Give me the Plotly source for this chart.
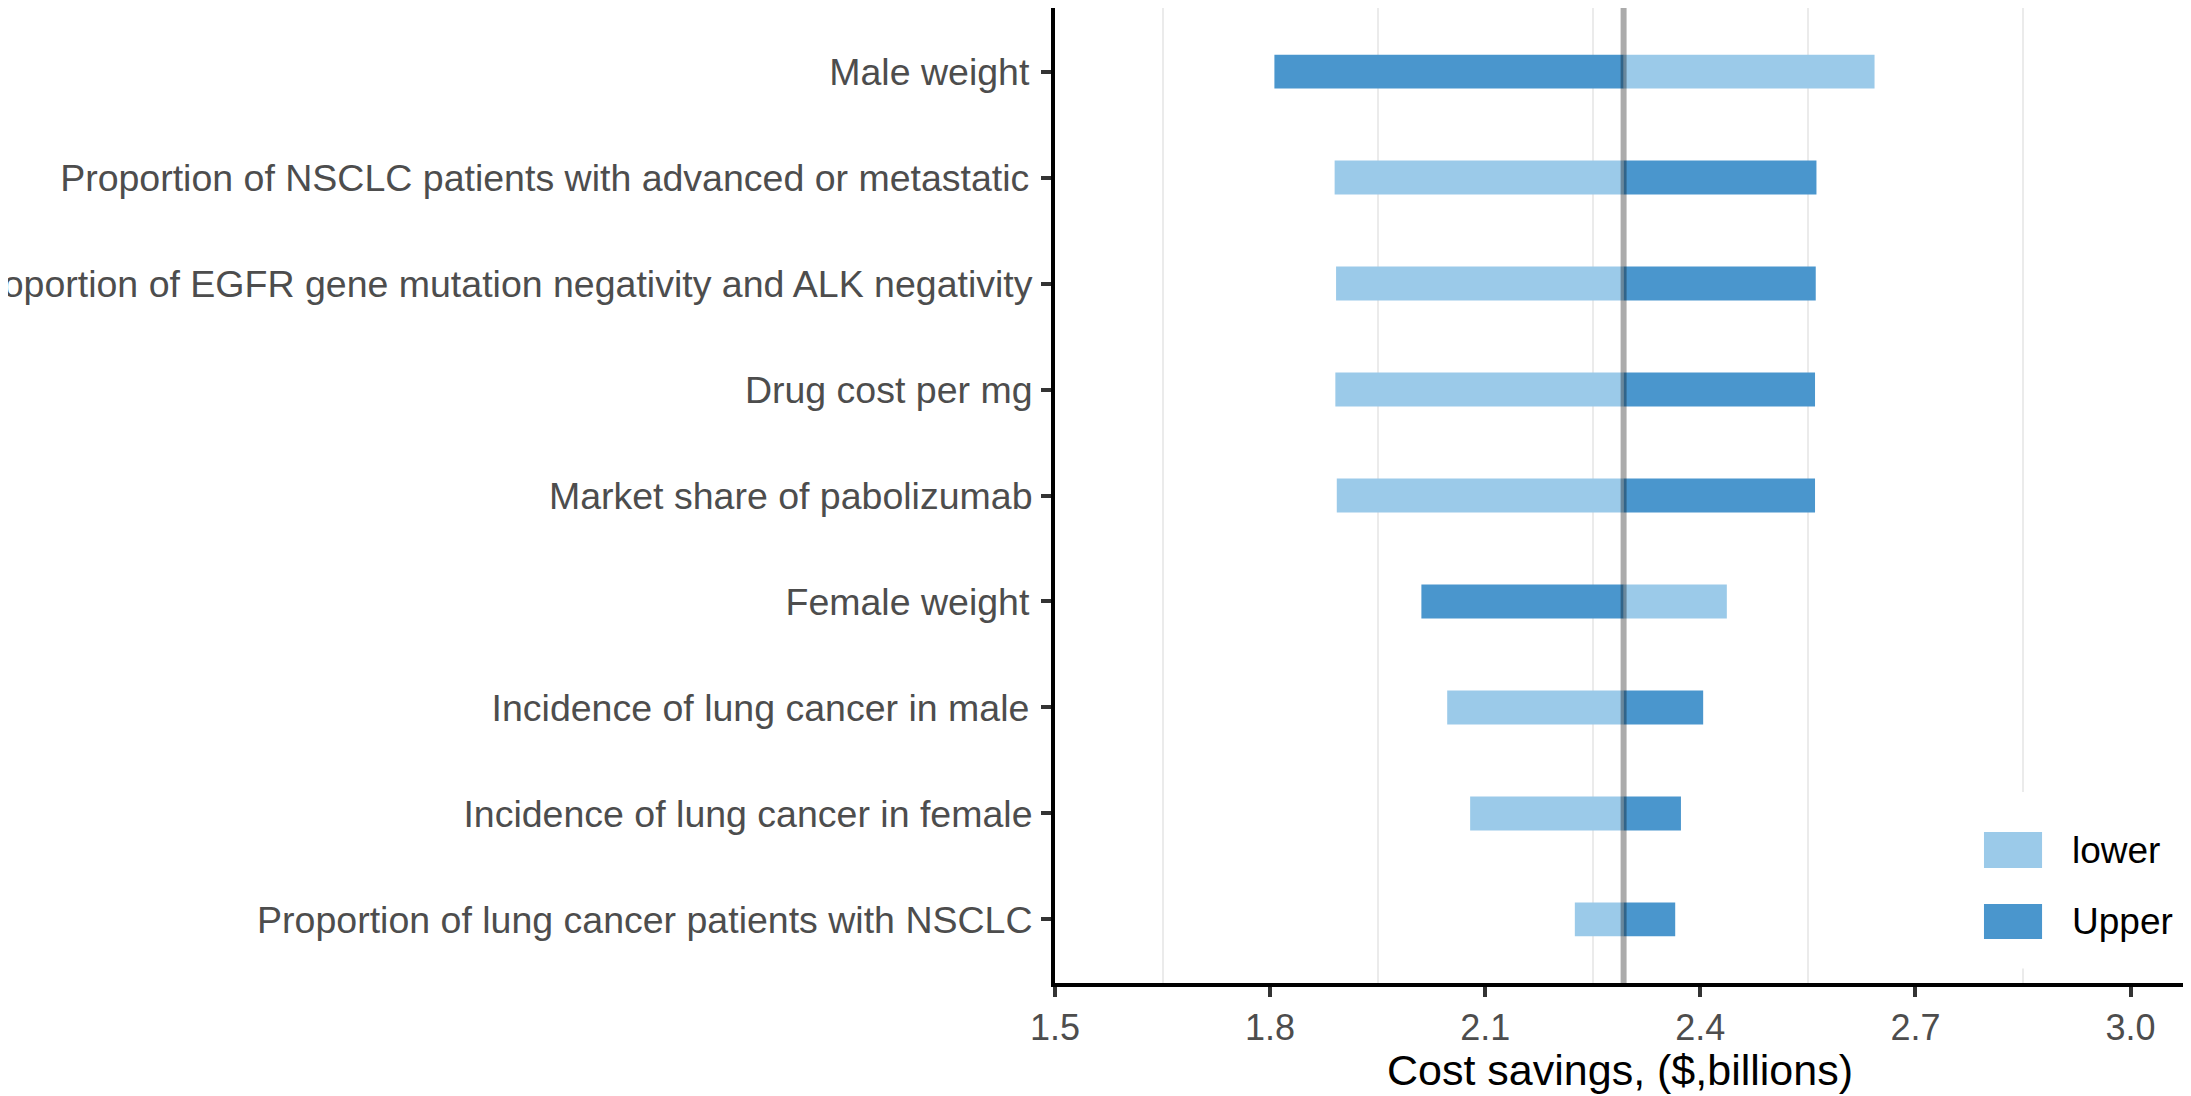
import plotly.graph_objects as go

# tornado chart: one-way sensitivity of cost savings
params = [
    "Male weight\u200a",
    "Proportion of NSCLC patients with advanced or metastatic\u200a",
    "Proportion of EGFR gene mutation negativity and ALK negativity",
    "Drug cost per mg",
    "Market share of pabolizumab",
    "Female weight\u200a",
    "Incidence of lung cancer in male\u200a",
    "Incidence of lung cancer in female",
    "Proportion of lung cancer patients with NSCLC",
]
lower_vals = [2.643, 1.890, 1.892, 1.891, 1.893, 2.437, 2.047, 2.079, 2.225]
upper_vals = [1.806, 2.562, 2.561, 2.560, 2.560, 2.011, 2.404, 2.373, 2.365]
base_value = 2.293

x_ticks = [1.5, 1.8, 2.1, 2.4, 2.7, 3.0]
x_minor = [1.65, 1.95, 2.25, 2.55, 2.85]

LIGHT = '#9BCAE9'
DARK = '#4A96CD'
FONT = 'Liberation Sans, Arial, sans-serif'

fig = go.Figure()

fig.add_trace(go.Bar(
    name='lower',
    y=params,
    x=[v - base_value for v in lower_vals],
    base=base_value,
    orientation='h',
    width=0.32,
    marker=dict(color=LIGHT, line=dict(width=0)),
    showlegend=False
))

fig.add_trace(go.Bar(
    name='Upper',
    y=params,
    x=[v - base_value for v in upper_vals],
    base=base_value,
    orientation='h',
    width=0.32,
    marker=dict(color=DARK, line=dict(width=0)),
    showlegend=False
))

# base case line, drawn over the bars
fig.add_shape(type='line', xref='x', yref='paper',
              x0=base_value, x1=base_value, y0=0, y1=1,
              line=dict(color='rgba(0,0,0,0.33)', width=6), layer='above')

# legend box inside the panel (bottom right)
fig.add_shape(type='rect', xref='paper', yref='paper',
              x0=0.803, x1=0.995, y0=0.015, y1=0.1959,
              fillcolor='white', line=dict(width=0), layer='above')
legend_items = [('lower', LIGHT, 0.1549, 0.1179), ('Upper', DARK, 0.0810, 0.0451)]
for label, col, ytop, ybot in legend_items:
    fig.add_shape(type='rect', xref='paper', yref='paper',
                  x0=0.8221, x1=0.8735, y0=ybot, y1=ytop,
                  fillcolor=col, line=dict(width=0), layer='above')
    fig.add_annotation(text=label, xref='paper', yref='paper',
                       x=0.898, y=(ytop + ybot) / 2,
                       xanchor='left', yanchor='middle', showarrow=False,
                       font=dict(size=37, color='black', family=FONT))

# x axis title
fig.add_annotation(text='Cost savings, ($,billions)', xref='paper', yref='paper',
                   x=0.5, y=-0.1158, xanchor='center', yanchor='bottom',
                   showarrow=False, font=dict(size=43, color='black', family=FONT))

# page body adds ~8px offset, so the figure is a bit smaller than the window
fig.update_layout(
    width=2183,
    height=1088,
    margin=dict(l=1047, r=6, t=0, b=113),
    barmode='overlay',
    plot_bgcolor='white',
    paper_bgcolor='white',
    font=dict(family=FONT, size=37, color='#4D4D4D'),
    showlegend=False
)

fig.update_xaxes(
    automargin=False,
    range=[1.5, 3.076],
    tickvals=x_ticks,
    ticktext=['1.5', '1.8', '2.1', '2.4', '2.7', '3.0'],
    showgrid=False,
    zeroline=False,
    showline=True, linecolor='black', linewidth=4,
    ticks='outside', ticklen=10, tickwidth=4, tickcolor='#333333',
    tickfont=dict(size=36, color='#4D4D4D', family=FONT),
    minor=dict(tickvals=x_minor, showgrid=True, gridcolor='#EBEBEB', gridwidth=2, ticks='')
)

fig.update_yaxes(
    automargin=False,
    range=[len(params) - 0.4, -0.6],
    showgrid=False,
    zeroline=False,
    showline=True, linecolor='black', linewidth=4,
    ticks='outside', ticklen=10, tickwidth=4, tickcolor='#333333',
    tickfont=dict(size=37.5, color='#4D4D4D', family=FONT),
    ticklabelstandoff=1
)

fig.write_html("out.html")
